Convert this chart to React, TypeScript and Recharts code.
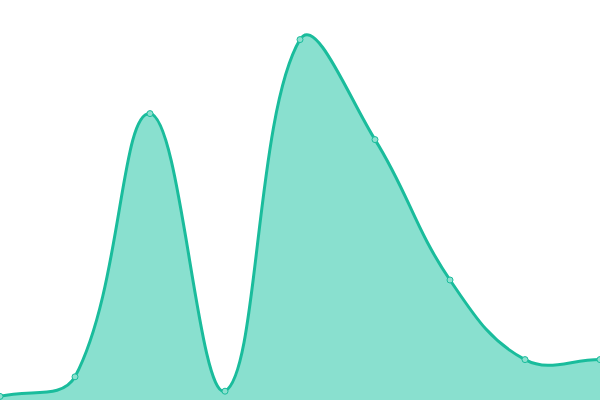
import { AreaChart, Area, XAxis, YAxis } from "recharts";

const categories = ["1", "2", "3", "4", "5", "6", "7", "8", "9"];
const values = [0.9, 5.8, 71.6, 2.2, 90.1, 65.1, 30, 10.1, 10.1];

const data = categories.map((name, i) => ({ name, value: values[i] }));

const WIDTH = 600;
const HEIGHT = 400;
const TENSION = 0.4;

// bezier spline through the points, control points scaled by neighbour distance
function splineCurve(context: any) {
  let pts: number[][] = [];
  let line = NaN;
  const cap = (v: number, lo: number, hi: number) => Math.min(Math.max(v, lo), hi);
  return {
    areaStart() {
      line = 0;
    },
    areaEnd() {
      line = NaN;
    },
    lineStart() {
      pts = [];
    },
    lineEnd() {
      const n = pts.length;
      if (n) {
        const cps = pts.map((p, i) => {
          const prev = pts[Math.max(i - 1, 0)];
          const next = pts[Math.min(i + 1, n - 1)];
          const d01 = Math.hypot(p[0] - prev[0], p[1] - prev[1]);
          const d12 = Math.hypot(next[0] - p[0], next[1] - p[1]);
          let s01 = d01 / (d01 + d12);
          let s12 = d12 / (d01 + d12);
          if (!isFinite(s01)) s01 = 0;
          if (!isFinite(s12)) s12 = 0;
          const fa = TENSION * s01;
          const fb = TENSION * s12;
          return {
            px: cap(p[0] - fa * (next[0] - prev[0]), 0, WIDTH),
            py: cap(p[1] - fa * (next[1] - prev[1]), 0, HEIGHT),
            nx: cap(p[0] + fb * (next[0] - prev[0]), 0, WIDTH),
            ny: cap(p[1] + fb * (next[1] - prev[1]), 0, HEIGHT),
          };
        });
        if (line) context.lineTo(pts[0][0], pts[0][1]);
        else context.moveTo(pts[0][0], pts[0][1]);
        for (let i = 1; i < n; i++) {
          context.bezierCurveTo(cps[i - 1].nx, cps[i - 1].ny, cps[i].px, cps[i].py, pts[i][0], pts[i][1]);
        }
      }
      if (line || (line !== 0 && n === 1)) context.closePath();
      line = 1 - line;
    },
    point(x: number, y: number) {
      pts.push([+x, +y]);
    },
  };
}

export default function App() {
  return (
    <div style={{ position: "absolute", left: 0, top: 0, width: WIDTH, height: HEIGHT }}>
      <AreaChart width={WIDTH} height={HEIGHT} data={data} margin={{ top: 0, right: 0, bottom: 0, left: 0 }}>
        <XAxis dataKey="name" hide />
        <YAxis hide domain={[0, 100]} />
        <Area
          type={splineCurve as any}
          dataKey="value"
          stroke="#1abc9c"
          strokeWidth={3}
          fill="#89e0cf"
          fillOpacity={1}
          dot={{ r: 3, fill: "#8ce0cf", stroke: "#1abc9c", strokeWidth: 1 }}
          activeDot={false}
          isAnimationActive={false}
        />
      </AreaChart>
    </div>
  );
}
